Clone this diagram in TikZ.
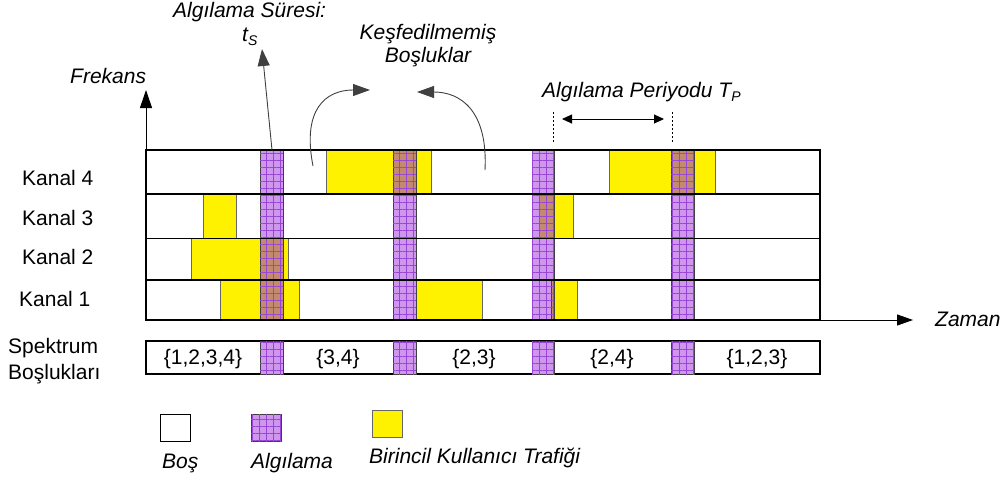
\documentclass[tikz,border=0pt]{standalone}
\usepackage{fontspec}
\setmainfont{Liberation Sans}
\usetikzlibrary{arrows.meta,patterns.meta,positioning}
\definecolor{sensefill}{RGB}{206,150,236}
\definecolor{senseline}{RGB}{150,70,210}
\definecolor{ovfill}{RGB}{196,138,112}

\begin{document}
\begin{tikzpicture}[x=1pt,y=-1pt,
	font=\fontsize{21}{24}\selectfont,
	lbl/.style={inner sep=0pt,anchor=base west},
	ilbl/.style={lbl,font=\fontsize{21}{24}\selectfont\itshape},
	frame/.style={draw=black,line width=1.1pt},
	pu/.style={fill=yellow,draw=black!60,line width=0.9pt},
	sense/.style={fill=sensefill,draw=black!75,line width=0.8pt,
		postaction={pattern color=senseline,pattern={Hatch[distance=7pt,angle=0,line width=0.5pt]}}},
	senseov/.style={sense,fill=ovfill},
	curvearrow/.style={draw=black!75,line width=0.9pt,-{Triangle[length=17pt,width=12pt]}},
	sub/.style={font=\fontsize{14}{14}\selectfont\itshape}]
	\useasboundingbox (0,0) rectangle (1003,482);
	% channel grid
	\filldraw[frame,fill=white] (146,150) rectangle (820,320);
	% primary user traffic
	\filldraw[pu] (326,150) rectangle (431,194);
	\filldraw[pu] (609,150) rectangle (715,194);
	\filldraw[pu] (203,194) rectangle (236,238.5);
	\filldraw[pu] (539,194) rectangle (573,238.5);
	\filldraw[pu] (191,238.5) rectangle (288,280);
	\filldraw[pu] (220,280) rectangle (299,320);
	\filldraw[pu] (416,280) rectangle (482,320);
	\filldraw[pu] (551,280) rectangle (577,320);
	% sensing bars
	\foreach \xa/\xb in {260/283,393/416,532/554,671/694}
		\filldraw[sense] (\xa,150) rectangle (\xb,320);
	\filldraw[senseov] (260,238.5) rectangle (283,320);
	\filldraw[senseov] (393,150) rectangle (416,194);
	\filldraw[senseov] (539,194) rectangle (554,238.5);
	\filldraw[senseov] (551,280) rectangle (554,320);
	\filldraw[senseov] (671,150) rectangle (694,194);
	% rows
	\foreach \y in {194,238.5,280}
		\draw[frame] (146,\y) -- (820,\y);
	\draw[frame] (146,150) rectangle (820,320);

	% axes
	\coordinate (origin) at (146,320);
	\coordinate (ftip) at (146,90);
	\coordinate (ztip) at (913,320);
	\draw[line width=1pt,-{Triangle[length=18pt,width=12pt]}] (origin) -- (ftip);
	\draw[line width=1pt,-{Triangle[length=16pt,width=11pt]}] (origin) -- (ztip);
	\node[ilbl] (frekans) at (70,83) {Frekans};
	\node[ilbl] (zaman) at (935,326) {Zaman};

	\node[lbl] (k4) at (22,185) {Kanal 4};
	\node[lbl] (k3) at (22,225.5) {Kanal 3};
	\node[lbl] (k2) at (22,264.5) {Kanal 2};
	\node[lbl] (k1) at (19,306.5) {Kanal 1};

	% sensing time
	\node[ilbl] (sure) at (173,17) {Algılama Süresi:};
	\node[ilbl] (ts) at (242,41) {t\raisebox{-4pt}{\fontsize{14}{14}\selectfont S}};
	\coordinate (b1top) at (272,150);
	\coordinate (tsend) at (262,49);
	\draw[curvearrow] (b1top) -- (tsend);

	% undiscovered holes
	\node[ilbl,anchor=base] (kesif) at (428,39) {Keşfedilmemiş};
	\node[ilbl,anchor=base] (bosluk) at (428,62) {Boşluklar};
	\coordinate (la) at (313,166);
	\coordinate (lb) at (370,90);
	\coordinate (ra) at (485,170);
	\coordinate (rb) at (417,92);
	\draw[curvearrow] (la) .. controls (302,110) and (325,90) .. (lb);
	\draw[curvearrow] (ra) .. controls (488,110) and (460,92) .. (rb);

	% sensing period
	\node[ilbl] (periyot) at (542,97) {Algılama Periyodu T\raisebox{-4pt}{\fontsize{14}{14}\selectfont P}};
	\coordinate (pa) at (553,112);
	\coordinate (pb) at (553,142);
	\coordinate (pc) at (672,112);
	\coordinate (pd) at (672,142);
	\draw[line width=0.9pt,dash pattern=on 2pt off 2pt] (pa) -- (pb);
	\draw[line width=0.9pt,dash pattern=on 2pt off 2pt] (pc) -- (pd);
	\coordinate (qa) at (562,119);
	\coordinate (qb) at (664,119);
	\draw[line width=0.9pt,{Triangle[length=10pt,width=9pt]}-{Triangle[length=10pt,width=9pt]}] (qa) -- (qb);

	% spectrum holes
	\node[lbl] (spek) at (8,353) {Spektrum};
	\node[lbl] (bos) at (8,379) {Boşlukları};
	\filldraw[frame,fill=white] (146,341) rectangle (820,374);
	\foreach \xa/\xb in {260/283,393/416,532/554,671/694}
		\filldraw[sense] (\xa,341) rectangle (\xb,374);
	\node[anchor=base,inner sep=0pt] (h1) at (203,364) {\{1,2,3,4\}};
	\node[anchor=base,inner sep=0pt] (h2) at (338,364) {\{3,4\}};
	\node[anchor=base,inner sep=0pt] (h3) at (474,364) {\{2,3\}};
	\node[anchor=base,inner sep=0pt] (h4) at (612,364) {\{2,4\}};
	\node[anchor=base,inner sep=0pt] (h5) at (757,364) {\{1,2,3\}};

	% legend
	\filldraw[draw=black,line width=0.9pt,fill=white] (160,414) rectangle (190,441);
	\filldraw[sense] (251,414) rectangle (281,441);
	\filldraw[pu] (372,410) rectangle (402,437);
	\node[ilbl] (lbos) at (162,468) {Boş};
	\node[ilbl] (lalg) at (251,468) {Algılama};
	\node[ilbl] (lbir) at (369,463) {Birincil Kullanıcı Trafiği};
\end{tikzpicture}
\end{document}
